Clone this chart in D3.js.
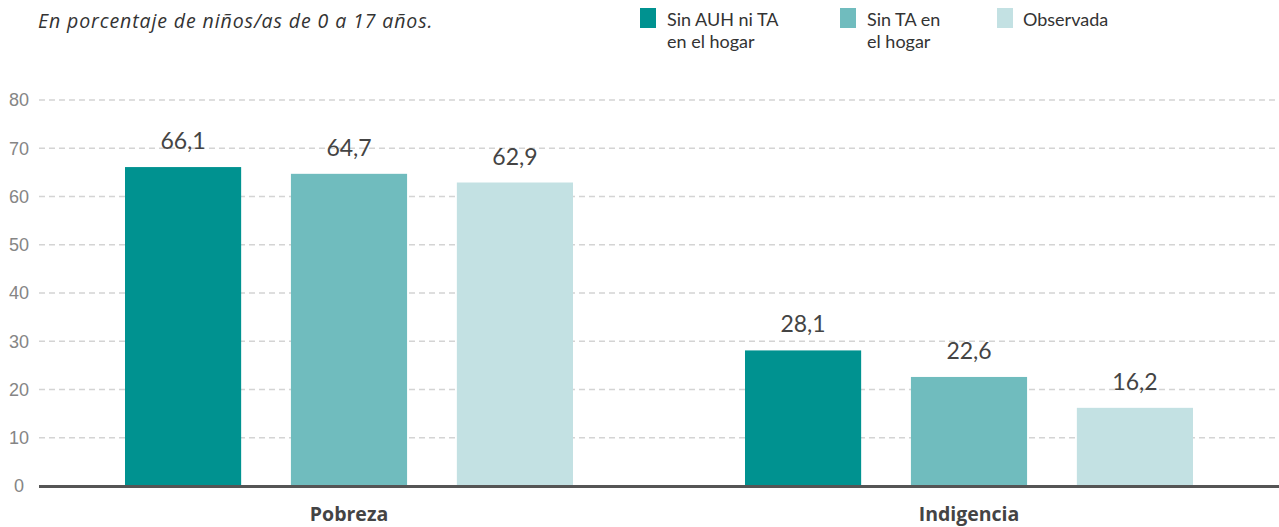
<!DOCTYPE html>
<html>
<head>
<meta charset="utf-8">
<script src="https://cdn.jsdelivr.net/npm/d3@7"></script>
<style>
  body { margin: 0; background: #fff; }
  svg { font-family: Lato, "Noto Sans", sans-serif; }
</style>
</head>
<body>
<svg id="chart" width="1279" height="527"></svg>
<script>
// Data
const categories = ["Pobreza", "Indigencia"];
const seriesNames = ["Sin AUH ni TA|en el hogar", "Sin TA en|el hogar", "Observada"];
const seriesValues = [
    [66.1, 28.1],  // Sin AUH ni TA en el hogar
    [64.7, 22.6],  // Sin TA en el hogar
    [62.9, 16.2],  // Observada
];
const yTicks = [0, 10, 20, 30, 40, 50, 60, 70, 80];

const colours = ["#009290", "#70bcbe", "#c3e1e3"];
const margin = { top: 100, right: 0, bottom: 41, left: 39 };
const width = 1279 - margin.left - margin.right;
const height = 527 - margin.top - margin.bottom;

const svg = d3.select("#chart");
const g = svg.append("g").attr("transform", `translate(${margin.left}, ${margin.top})`);

const x0 = d3.scaleBand().domain(categories).range([0, width]);
const x1 = d3.scaleBand().domain(d3.range(seriesNames.length))
    .range([86, x0.bandwidth() - 86]).paddingInner(0.3);
const y = d3.scaleLinear().domain([0, 80]).range([height, 0]);

// Grid
g.selectAll("line.grid")
    .data(yTicks.filter(d => d > 0))
    .join("line")
    .attr("class", "grid")
    .attr("x1", 0).attr("x2", width)
    .attr("y1", d => y(d)).attr("y2", d => y(d))
    .attr("stroke", "#d4d4d4")
    .attr("stroke-width", 1.3)
    .attr("stroke-dasharray", "6,4");

// Y axis labels (centred under each other, like the original)
const yAxis = d3.axisLeft(y).tickValues(yTicks).tickSize(0).tickPadding(0);
g.append("g")
    .call(yAxis)
    .call(a => a.select(".domain").remove())
    .selectAll("text")
    .attr("x", -20)
    .attr("text-anchor", "middle")
    .attr("fill", "#858585")
    .style("font-size", "18px");

// Bars
categories.forEach((cat, ci) => {
    seriesValues.forEach((vals, si) => {
        const bx = x0(cat) + x1(si);
        g.append("rect")
            .attr("x", bx)
            .attr("y", y(vals[ci]))
            .attr("width", x1.bandwidth())
            .attr("height", height - y(vals[ci]))
            .attr("fill", colours[si]);
        g.append("text")
            .attr("x", bx + x1.bandwidth() / 2)
            .attr("y", y(vals[ci]) - 18)
            .attr("text-anchor", "middle")
            .attr("fill", "#444")
            .style("font-size", "23px")
            .text(d3.format(".1f")(vals[ci]).replace(".", ","));
    });
});

// Baseline
g.append("line")
    .attr("x1", 0).attr("x2", width)
    .attr("y1", height + 0.5).attr("y2", height + 0.5)
    .attr("stroke", "#555")
    .attr("stroke-width", 3);

// Category labels
const xAxis = d3.axisBottom(x0).tickSize(0).tickPadding(21);
g.append("g")
    .attr("transform", `translate(0, ${height})`)
    .call(xAxis)
    .call(a => a.select(".domain").remove())
    .selectAll("text")
    .attr("fill", "#444")
    .style("font-size", "19.5px")
    .style("font-weight", "bold")
    .style("font-family", "'Open Sans', sans-serif");

// Subtitle
svg.append("text")
    .attr("x", 38).attr("y", 28)
    .attr("fill", "#333")
    .style("font-size", "19.5px")
    .style("letter-spacing", "0.9px")
    .style("font-style", "italic")
    .style("font-family", "'Open Sans', sans-serif")
    .text("En porcentaje de niños/as de 0 a 17 años.");

// Legend
const legendX = [640, 840, 997];
seriesNames.forEach((name, i) => {
    const lg = svg.append("g").attr("transform", `translate(${legendX[i]}, 8)`);
    lg.append("rect").attr("width", 16).attr("height", 20).attr("fill", colours[i]);
    name.split("|").forEach((line, li) => {
        lg.append("text")
            .attr("x", 27 + (i === 2 ? -1 : 0))
            .attr("y", 18 + li * 22)
            .attr("fill", "#333")
            .style("font-size", "18px")
            .text(line);
    });
});
</script>
</body>
</html>
